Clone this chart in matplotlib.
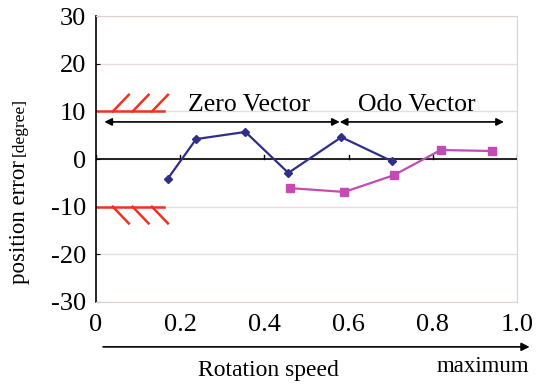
import numpy as np
import matplotlib.pyplot as plt

plt.rcParams['font.family'] = ['Liberation Serif', 'DejaVu Serif']
plt.rcParams['axes.unicode_minus'] = False

# --- data ---
zero_x = [0.17, 0.238, 0.355, 0.457, 0.583, 0.702]
zero_y = [-4.2, 4.2, 5.7, -2.9, 4.6, -0.4]

odo_x = [0.462, 0.590, 0.707, 0.819, 0.940]
odo_y = [-6.1, -6.9, -3.4, 1.9, 1.7]

xticks = [0, 0.2, 0.4, 0.6, 0.8, 1.0]
xticklabels = ['0', '0.2', '0.4', '0.6', '0.8', '1.0']
yticks = [-30, -20, -10, 0, 10, 20, 30]

limit = 10
limit_end = 0.162
hatch_starts = [0.04, 0.087, 0.133]
hatch_dx, hatch_dy = 0.038, 3.5

arrow_y = 7.8
zero_span = (0.02, 0.579)
odo_span = (0.579, 0.969)

fig = plt.figure(figsize=(5.36, 3.85), dpi=100)
ax = fig.add_axes([0.179, 0.2156, 0.7855, 0.7424])

ax.set_xlim(0, 1.0)
ax.set_ylim(-30, 30)

# grid + frame
for y in yticks:
    ax.axhline(y, color='#e6dcdc', lw=1.0, zorder=0)
for s in ['top', 'right', 'bottom']:
    ax.spines[s].set_color('#e0d0d0')
ax.spines['left'].set_color('black')
ax.spines['left'].set_linewidth(1.2)

# x axis crossing at zero
ax.axhline(0, color='black', lw=1.2, zorder=1)
for xt in xticks:
    ax.plot([xt, xt], [0, 0.8], color='black', lw=1.0, zorder=1)

ax.set_xticks(xticks)
ax.set_xticklabels(xticklabels)
ax.set_yticks(yticks)
ax.tick_params(axis='x', length=0, labelsize=19, pad=9)
ax.tick_params(axis='y', direction='in', length=3, labelsize=19, pad=7)

# limit lines with hatching
for sign in (1, -1):
    ax.plot([0, limit_end], [sign * limit] * 2, color='#ee3322', lw=1.8, zorder=2)
    for hs in hatch_starts:
        ax.plot([hs, hs + hatch_dx], [sign * limit, sign * (limit + hatch_dy)],
                color='#ee3322', lw=1.8, zorder=2)

# series
ax.plot(zero_x, zero_y, color='#2f2f8a', lw=1.6, marker='D', ms=4.2, zorder=3)
ax.plot(odo_x, odo_y, color='#c24cb4', lw=1.6, marker='s', ms=5.5, zorder=3)

# span arrows
arrow_kw = dict(arrowstyle='<|-|>', color='black', lw=1.2, mutation_scale=11,
                shrinkA=0, shrinkB=0)
ax.annotate('', xy=(zero_span[0], arrow_y), xytext=(zero_span[1], arrow_y),
            arrowprops=arrow_kw)
ax.annotate('', xy=(odo_span[0], arrow_y), xytext=(odo_span[1], arrow_y),
            arrowprops=arrow_kw)
ax.text(0.363, 11.4, 'Zero Vector', fontsize=18.5, ha='center', va='center')
ax.text(0.762, 11.4, 'Odo Vector', fontsize=18.5, ha='center', va='center')

# axis labels
fig.text(0.037, 0.585, 'position error', rotation=90, fontsize=16.5,
         ha='center', va='top')
fig.text(0.037, 0.595, '[degree]', rotation=90, fontsize=12.5,
         ha='center', va='bottom')

ax.annotate('', xy=(1.03, -0.157), xytext=(0.017, -0.157),
            xycoords='axes fraction', textcoords='axes fraction',
            arrowprops=dict(arrowstyle='-|>', color='black', lw=1.2,
                            mutation_scale=12, shrinkA=0, shrinkB=0))
fig.text(0.50, 0.038, 'Rotation speed', fontsize=17, ha='center', va='center')
fig.text(0.90, 0.047, 'maximum', fontsize=16.5, ha='center', va='center')

fig.savefig('out.png', dpi=100)
